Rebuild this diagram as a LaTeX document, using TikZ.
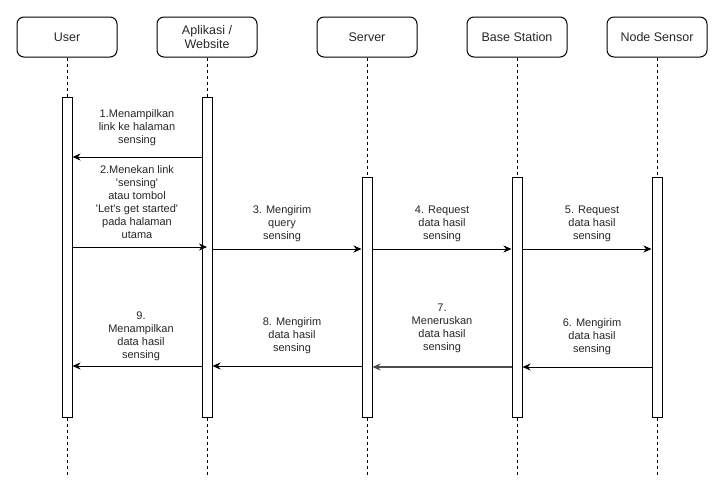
\documentclass[tikz,border=0pt]{standalone}
\usepackage{fontspec}
\setmainfont{Liberation Sans}
\usepackage{tikz}
\usetikzlibrary{arrows.meta,calc}

\newcommand{\q}{\textquotesingle}

\tikzset{
 actor/.style={draw, rounded corners=7pt, minimum width=100pt, minimum height=40pt, align=center, font=\fontsize{12.5}{14}\selectfont, text=black!85},
 bar/.style={draw, fill=white, minimum width=10pt, inner sep=0pt, anchor=north},
 life/.style={dash pattern=on 3pt off 3pt},
 msg/.style={-{Stealth[length=8pt,width=7pt,inset=2.5pt]}},
 lbl/.style={align=center, inner sep=0pt, font=\fontsize{11}{13}\selectfont, text=black!85}
}

\begin{document}
\begin{tikzpicture}[x=1pt,y=-1pt,line width=1pt]
\useasboundingbox (0,0) rectangle (712,482);
% heads and lifelines
\foreach \x/\name/\txt in {67/user/User,207/app/{Aplikasi /\\Website},367/server/Server,517/bs/Base Station,657/ns/Node Sensor}{
 \node[actor] (\name) at (\x,37) {\txt};
 \coordinate (\name-end) at (\x,476);
 \draw[life] (\name) -- (\name-end);
}
% activation bars
\foreach \name/\top in {user/97,app/97,server/177,bs/177,ns/177}{
 \node[bar, minimum height={417-\top}] (\name-bar) at (\name |- 0,\top) {};
}
% requests
\draw[msg] (app-bar.west |- 0,157) -- (user-bar.east |- 0,157);
\draw[msg] (user-bar.east |- 0,247) -- (app-bar.center |- 0,247);
\draw[msg] (app-bar.east |- 0,249) -- (server-bar.west |- 0,249);
\draw[msg] (server-bar.east |- 0,249) -- (bs-bar.west |- 0,249);
\draw[msg] (bs-bar.east |- 0,249) -- (ns-bar.west |- 0,249);
% replies
\draw[msg] (ns-bar.west |- 0,367) -- (bs-bar.east |- 0,367);
\draw[msg, black!70, line width=1.3pt] (bs-bar.west |- 0,367) -- (server-bar.east |- 0,367);
\draw[msg] (server-bar.west |- 0,366) -- (app-bar.east |- 0,366);
\draw[msg] (app-bar.west |- 0,366) -- (user-bar.east |- 0,366);
% labels
\node[lbl] (l1) at (137,128) {1.Menampilkan\\link ke halaman\\sensing};
\node[lbl] (l2) at (137,202) {2.Menekan link\\\q sensing\q\\atau tombol\\\q Let\q s get started\q\\pada halaman\\utama};
\node[lbl] (l3) at (282,224) {3. Mengirim\\query\\sensing};
\node[lbl] (l4) at (442,224) {4. Request\\data hasil\\sensing};
\node[lbl] (l5) at (592,224) {5. Request\\data hasil\\sensing};
\node[lbl] (l6) at (592,337) {6. Mengirim\\data hasil\\sensing};
\node[lbl] (l7) at (442,328) {7.\\Meneruskan\\data hasil\\sensing};
\node[lbl] (l8) at (292,336) {8. Mengirim\\data hasil\\sensing};
\node[lbl] (l9) at (141,336) {9.\\Menampilkan\\data hasil\\sensing};
\end{tikzpicture}
\end{document}
